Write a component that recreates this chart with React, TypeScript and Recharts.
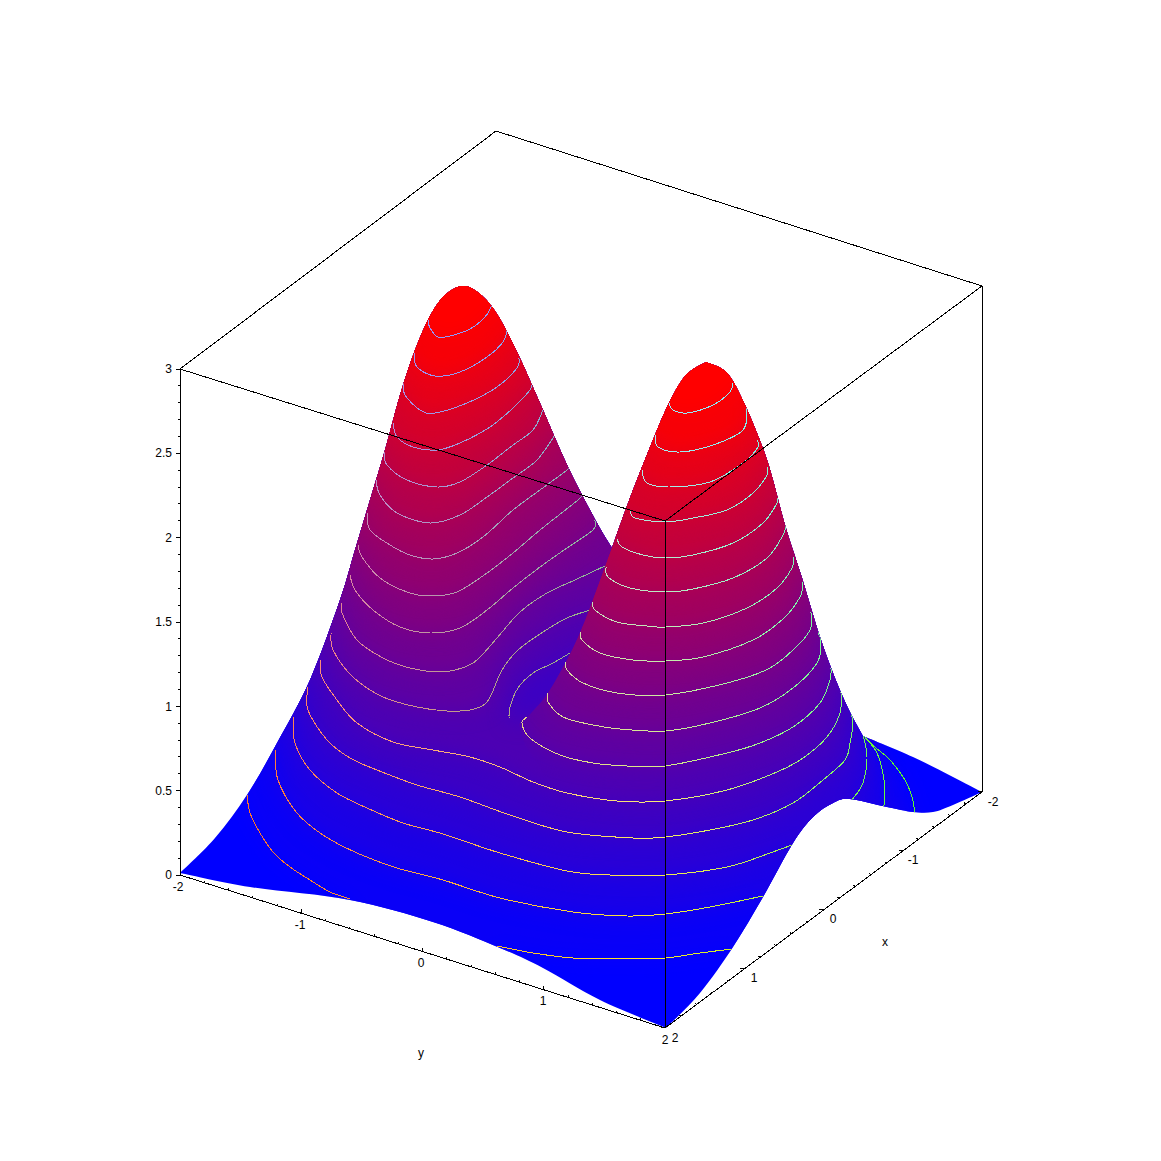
import { ScatterChart, Scatter, XAxis, YAxis } from "recharts";

type Pt = [number, number];

const SIZE = 1161;
const TOP = 100;
const FONT = "'Liberation Sans', Arial, sans-serif";

// ─── Outline of the surface ───────────────────────────────────────────────────

const LEFT_PEAK_EDGE: Pt[] = [
  [180, 873], [215, 838], [247, 795], [277, 743], [310, 680], [340, 600], [355, 550], [370, 500], [385, 450],
  [400, 395], [415, 350], [430, 316], [445, 295], [463, 286], [480, 294], [497, 314], [518, 354], [543, 410],
  [568, 467], [597, 523], [612, 548],
];
const RIGHT_PEAK_LEFT_EDGE: Pt[] = [
  [612, 548], [630, 498], [655, 435], [670, 401], [686, 375], [706, 362],
];
const RIGHT_PEAK_RIGHT_EDGE: Pt[] = [
  [706, 362], [727, 373], [745, 405], [767, 460], [785, 525], [802, 578], [820, 637], [837, 683], [850, 712], [863, 736],
];
const BACK_CORNER_EDGE: Pt[] = [[863, 736], [913, 757], [953, 777], [982, 792]];
const RIGHT_LOWER_EDGE: Pt[] = [
  [982, 792], [953, 805], [933, 812], [913, 812], [887, 807], [850, 799], [833, 803],
  [813, 817], [793, 843], [763, 897], [733, 947], [700, 993], [666, 1028],
];
const LEFT_LOWER_EDGE: Pt[] = [
  [666, 1028], [600, 1000], [543, 968], [500, 948], [433, 922], [350, 900], [250, 887], [180, 873],
];
const OCCLUSION_EDGE: Pt[] = [
  [612, 548], [593, 600], [580, 633], [567, 660], [548, 693], [533, 711], [527, 717],
];

// ─── Contours, lowest level first ─────────────────────────────────────────────

const L1_LEFT: Pt[] = [[247, 795], [250, 813], [260, 833], [273, 852], [290, 867], [310, 880], [330, 892], [350, 899]];
const L1_FRONT: Pt[] = [[497, 946], [533, 953], [573, 958], [617, 959], [665, 958], [700, 953], [732, 949]];
const L1_RIGHT: Pt[] = [[915, 813], [912, 797], [905, 780], [890, 760], [875, 747], [863, 735]];
const L2_MAIN: Pt[] = [
  [275, 750], [278, 780], [297, 813], [323, 835], [357, 853], [397, 868], [443, 880], [500, 898],
  [573, 912], [627, 916], [665, 914], [710, 907], [763, 896],
];
const L2_RIGHT: Pt[] = [[884, 806], [884, 780], [877, 753], [863, 735]];
const L3_MAIN: Pt[] = [
  [293, 717], [295, 743], [310, 770], [337, 793], [367, 808], [403, 823], [443, 834], [500, 853],
  [567, 871], [610, 875], [665, 875], [727, 867], [770, 853], [797, 843],
];
const L3_RIGHT: Pt[] = [[852, 800], [863, 783], [867, 757], [862, 730]];
const L4: Pt[] = [
  [308, 687], [308, 710], [327, 740], [350, 758], [377, 770], [417, 785], [460, 797], [510, 815],
  [567, 832], [633, 838], [665, 837], [710, 830], [753, 820], [793, 803], [823, 780], [845, 760], [850, 743],
  [853, 723], [850, 710],
];
const L5: Pt[] = [
  [320, 660], [322, 677], [337, 700], [357, 723], [393, 742], [433, 750], [470, 757], [500, 767], [533, 782],
  [567, 793], [617, 801], [665, 801], [727, 790], [777, 772], [803, 758], [827, 737], [840, 713], [841, 692],
];
const POCKET: Pt[] = [[509, 719], [510, 707], [518, 688], [533, 673], [553, 663], [570, 653]];

// ridge behind, levels 6 to 16
const BACK_CONTOURS: Pt[][] = [
  [[331, 633], [333, 650], [353, 677], [383, 697], [417, 707], [447, 711], [470, 710], [485, 704], [492, 693], [502, 670], [518, 650], [543, 632], [567, 618], [590, 610]],
  [[342, 603], [342, 613], [357, 640], [383, 658], [410, 668], [440, 672], [462, 668], [477, 660], [497, 638], [520, 612], [547, 593], [575, 580], [607, 565]],
  [[350, 575], [355, 590], [373, 610], [400, 627], [430, 633], [460, 628], [487, 610], [513, 588], [540, 567], [567, 548], [593, 530], [595, 520]],
  [[358, 545], [362, 557], [380, 578], [407, 592], [430, 596], [457, 592], [487, 573], [513, 553], [540, 530], [578, 500], [582, 495]],
  [[367, 513], [370, 530], [390, 545], [410, 555], [433, 559], [457, 553], [483, 537], [513, 510], [540, 490], [567, 470], [568, 467]],
  [[376, 480], [380, 495], [397, 513], [430, 523], [460, 515], [487, 497], [513, 478], [537, 460], [555, 435]],
  [[384, 452], [387, 465], [407, 480], [437, 487], [460, 482], [487, 465], [513, 445], [533, 430], [543, 410]],
  [[393, 423], [397, 437], [413, 447], [437, 450], [460, 443], [490, 427], [513, 408], [530, 390], [532, 383]],
  [[403, 383], [405, 395], [420, 410], [435, 413], [467, 403], [497, 387], [517, 368], [519, 358]],
  [[414, 353], [417, 367], [435, 376], [460, 372], [487, 357], [503, 342], [507, 330]],
  [[428, 320], [430, 328], [438, 337], [450, 336], [470, 329], [485, 317], [491, 307], [490, 303]],
];

// peak in front, levels 6 to 16
const FRONT_CONTOURS: Pt[][] = [
  [[527, 717], [522, 723], [530, 738], [560, 755], [593, 763], [627, 766], [665, 766], [727, 753], [760, 743], [793, 727], [820, 703], [830, 680], [831, 668]],
  [[548, 693], [548, 702], [563, 717], [593, 725], [620, 729], [665, 731], [710, 723], [760, 708], [793, 688], [817, 663], [821, 643], [818, 632]],
  [[566, 662], [567, 670], [583, 683], [617, 693], [665, 695], [727, 683], [768, 669], [793, 650], [810, 630], [811, 612]],
  [[581, 632], [582, 640], [600, 653], [633, 660], [665, 661], [703, 657], [753, 640], [783, 619], [800, 597], [803, 582]],
  [[593, 602], [595, 610], [617, 622], [647, 626], [665, 627], [703, 623], [747, 608], [777, 588], [792, 568], [794, 557]],
  [[606, 567], [608, 577], [630, 588], [665, 592], [693, 589], [733, 578], [767, 558], [783, 535], [786, 525]],
  [[617, 539], [622, 547], [643, 555], [665, 558], [693, 555], [733, 543], [763, 523], [777, 503], [777, 498]],
  [[630, 510], [635, 518], [665, 522], [693, 518], [727, 510], [753, 493], [767, 475], [767, 467]],
  [[642, 470], [647, 483], [670, 487], [710, 482], [743, 463], [758, 447], [757, 440]],
  [[655, 435], [658, 447], [680, 452], [713, 445], [743, 430], [747, 408]],
  [[669, 403], [673, 410], [687, 413], [713, 405], [730, 392], [733, 383]],
];

// ─── Box and axes ─────────────────────────────────────────────────────────────

const BOX_EDGES: Pt[][] = [
  [[180, 369], [180, 875]],
  [[180, 369], [496, 131]],
  [[496, 131], [982, 286]],
  [[982, 286], [982, 792]],
  [[982, 286], [665, 521]],
  [[180, 369], [665, 521]],
  [[665, 521], [665, 1028]],
  [[180, 875], [665, 1028]],
  [[665, 1028], [982, 792]],
];

const Z_TICKS = [0, 0.1, 0.2, 0.3, 0.4, 0.5, 0.6, 0.7, 0.8, 0.9, 1, 1.1, 1.2, 1.3, 1.4, 1.5, 1.6, 1.7, 1.8, 1.9, 2, 2.1, 2.2, 2.3, 2.4, 2.5, 2.6, 2.7, 2.8, 2.9, 3];
const XY_TICKS = [-2, -1.8, -1.6, -1.4, -1.2, -1, -0.8, -0.6, -0.4, -0.2, 0, 0.2, 0.4, 0.6, 0.8, 1, 1.2, 1.4, 1.6, 1.8, 2];

const Z_LABELS = [
  { x: 172, y: 875, label: "0" }, { x: 172, y: 791, label: "0.5" }, { x: 172, y: 707, label: "1" },
  { x: 172, y: 622, label: "1.5" }, { x: 172, y: 538, label: "2" }, { x: 172, y: 453, label: "2.5" },
  { x: 172, y: 369, label: "3" },
];
const FLOOR_LABELS = [
  { x: 178, y: 887, label: "-2" }, { x: 300, y: 925, label: "-1" }, { x: 421, y: 963, label: "0" },
  { x: 543, y: 1001, label: "1" }, { x: 665, y: 1040, label: "2" }, { x: 675, y: 1038, label: "2" },
  { x: 754, y: 978, label: "1" }, { x: 833, y: 919, label: "0" }, { x: 913, y: 860, label: "-1" },
  { x: 993, y: 802, label: "-2" }, { x: 885, y: 942, label: "x" }, { x: 421, y: 1053, label: "y" },
];

// ─── Helpers ──────────────────────────────────────────────────────────────────

const toPoints = (pts: Pt[]) => pts.map(([x, y]) => ({ x, y }));

// runs are smoothed on their own and joined by straight pieces
const outline = (...runs: Pt[][]): Pt[] => {
  const out: Pt[] = [];
  runs.forEach((run) => {
    out.push(run[0], ...run, run[run.length - 1]);
  });
  return out;
};

const capped = (pts: Pt[]): Pt[] => {
  const [x0, y0] = pts[0];
  const [xn, yn] = pts[pts.length - 1];
  return outline([[x0 - 60, y0]], pts, [[xn + 60, yn]], [[xn + 60, TOP]], [[x0 - 60, TOP]]);
};

// a repeated point splits the path into separately smoothed runs
function smooth(points: { x: number; y: number }[], closed = false) {
  const runs: { x: number; y: number }[][] = [];
  points.forEach((p, i) => {
    const prev = points[i - 1];
    if (!prev || prev.x !== p.x || prev.y !== p.y) {
      if (!runs.length) runs.push([]);
      runs[runs.length - 1].push(p);
    } else {
      runs.push([p]);
    }
  });
  let d = "";
  runs.forEach((run) => {
    d += `${d ? "L" : "M"}${run[0].x} ${run[0].y}`;
    for (let i = 0; i < run.length - 1; i++) {
      const a = run[Math.max(i - 1, 0)];
      const b = run[i];
      const c = run[i + 1];
      const e = run[Math.min(i + 2, run.length - 1)];
      d += `C${b.x + (c.x - a.x) / 6} ${b.y + (c.y - a.y) / 6} ${c.x - (e.x - b.x) / 6} ${c.y - (e.y - b.y) / 6} ${c.x} ${c.y}`;
    }
  });
  return closed ? d + "Z" : d;
}

const NoDot = () => <g />;

const mix = (t: number) => `rgb(${Math.round(255 * t)},0,${Math.round(255 * (1 - t))})`;
const bandColor = (band: number) => mix(Math.max(0, Math.min(1, (band - 0.5) / 15)));
const levelT = (level: number) => (level - 1) / 15;

type Stop = [number, number, number];
const LOW_STOPS: Stop[] = [[240, 255, 115], [660, 250, 235], [900, 90, 255]];
const BACK_STOPS: Stop[] = [[330, 245, 130], [600, 150, 185]];
const FRONT_STOPS: Stop[] = [[530, 240, 210], [665, 225, 235], [840, 115, 255]];

function LineGradient({ id, stops, level }: { id: string; stops: Stop[]; level: number }) {
  const t = levelT(level);
  const blue = Math.round(level < 6 ? Math.min(255, 40 + t * 300) : 80 + t * 175);
  const fade = level < 6 ? 1 : 1.1 - 0.4 * t;
  return (
    <linearGradient id={id} gradientUnits="userSpaceOnUse" x1={0} x2={SIZE} y1={0} y2={0}>
      {stops.map(([x, r, g]) => (
        <stop key={x} offset={x / SIZE} stopColor={`rgb(${Math.round(r * fade)},${g},${blue})`} />
      ))}
    </linearGradient>
  );
}

// ─── Series wrappers ──────────────────────────────────────────────────────────

const series = (key: string, pts: Pt[], line: (props: any) => any) => (
  <Scatter
    key={key}
    data={toPoints(pts)}
    line={line}
    shape={NoDot}
    legendType="none"
    isAnimationActive={false}
  />
);

const clipSeries = (id: string, pts: Pt[]) =>
  series(id, pts, (props: any) => (
    <clipPath id={id}>
      <path d={smooth(props.points, true)} shapeRendering="crispEdges" />
    </clipPath>
  ));

const bandSeries = (key: string, pts: Pt[], color: string, clip: string) =>
  series(key, pts, (props: any) => (
    <g clipPath={`url(#${clip})`}>
      <path d={smooth(props.points, true)} fill={color} stroke="none" filter="url(#soft)" />
    </g>
  ));

const contourSeries = (key: string, pts: Pt[], gradient: string, clip: string) =>
  series(key, pts, (props: any) => (
    <path
      d={smooth(props.points)}
      fill="none"
      stroke={`url(#${gradient})`}
      strokeWidth={1}
      shapeRendering="crispEdges"
      clipPath={`url(#${clip})`}
    />
  ));

const blackSeries = (key: string, pts: Pt[]) =>
  series(key, pts, (props: any) => (
    <path
      d={props.points.map((p: any, i: number) => `${i % 2 ? "L" : "M"}${p.x} ${p.y}`).join("")}
      fill="none"
      stroke="#000"
      strokeWidth={1}
      shapeRendering="crispEdges"
    />
  ));

const labelSeries = (key: string, data: { x: number; y: number; label: string }[], anchor: "end" | "middle") => (
  <Scatter
    key={key}
    data={data}
    legendType="none"
    isAnimationActive={false}
    shape={(props: any) => (
      <text
        x={props.cx}
        y={props.cy}
        dy="0.36em"
        textAnchor={anchor}
        fontFamily={FONT}
        fontSize={12}
        fill="#000"
      >
        {props.payload?.label ?? props.label}
      </text>
    )}
  />
);

// ticks are pairs of points along an axis
const along = (a: Pt, b: Pt, f: number): Pt => [a[0] + (b[0] - a[0]) * f, a[1] + (b[1] - a[1]) * f];
const isMajor = (v: number, step: number) => Math.abs(v / step - Math.round(v / step)) < 1e-6;

const zTicks: Pt[] = Z_TICKS.flatMap((v) => {
  const [x, y] = along([180, 875], [180, 369], v / 3);
  return [[x - (isMajor(v, 0.5) ? 4 : 2), y], [x, y]] as Pt[];
});
const yTicks: Pt[] = XY_TICKS.flatMap((v) => {
  const [x, y] = along([180, 875], [665, 1028], (v + 2) / 4);
  return [[x, y - (isMajor(v, 1) ? 4 : 2)], [x, y]] as Pt[];
});
const xTicks: Pt[] = XY_TICKS.flatMap((v) => {
  const [x, y] = along([982, 792], [665, 1028], (v + 2) / 4);
  return [[x - (isMajor(v, 1) ? 4 : 2), y - 1], [x, y]] as Pt[];
});

// ─── Fills ────────────────────────────────────────────────────────────────────

const SILHOUETTE = outline(LEFT_PEAK_EDGE, RIGHT_PEAK_LEFT_EDGE, RIGHT_PEAK_RIGHT_EDGE, BACK_CORNER_EDGE, RIGHT_LOWER_EDGE, LEFT_LOWER_EDGE);
const FRONT_CLIP = outline(
  [...OCCLUSION_EDGE].reverse(),
  RIGHT_PEAK_LEFT_EDGE,
  RIGHT_PEAK_RIGHT_EDGE,
  [[1100, 736]],
  [[1100, 1100]],
  [[560, 1100]],
  [[560, 800]],
  [[525, 745]],
  [[519, 724]],
);

const BASE_FILL: Pt[] = [[0, 0], [SIZE, 0], [SIZE, SIZE], [0, SIZE]];
const L1_FILL = outline([[200, 770]], L1_LEFT, [[360, 925]], [[490, 965]], L1_FRONT, [[745, 965]], [[930, 830]], L1_RIGHT, [[885, 720]], [[1000, TOP]], [[100, TOP]], [[100, 770]]);
const L2_FILL = outline([[230, 740]], L2_MAIN, [[790, 915]], [[900, 825]], L2_RIGHT, [[885, 720]], [[1000, TOP]], [[100, TOP]], [[100, 740]]);
const L3_FILL = outline([[250, 717]], L3_MAIN, [[815, 860]], [[860, 815]], L3_RIGHT, [[885, 715]], [[1000, TOP]], [[100, TOP]], [[100, 717]]);
const L4_FILL = outline([[260, 690]], L4, [[890, 700]], [[1000, TOP]], [[100, TOP]], [[100, 690]]);
const L5_FILL = outline([[270, 660]], L5, [[880, 680]], [[1000, TOP]], [[100, TOP]], [[100, 660]]);
const POCKET_FILL = outline(POCKET, [[600, 640]], [[560, 700]], [[527, 717]], [[522, 722]], [[513, 722]]);

export default function App() {
  return (
    <div style={{ position: "absolute", left: 0, top: 0, width: SIZE, height: SIZE, background: "#fff", overflow: "hidden" }}>
      <style>{"html,body{margin:0;background:#fff}"}</style>
      <ScatterChart width={SIZE} height={SIZE} margin={{ top: 0, right: 0, bottom: 0, left: 0 }}>
        <defs>
          <filter id="soft" filterUnits="userSpaceOnUse" x={0} y={0} width={SIZE} height={SIZE} colorInterpolationFilters="sRGB">
            <feGaussianBlur stdDeviation={10} />
          </filter>
          {[1, 2, 3, 4, 5].map((k) => (
            <LineGradient key={k} id={`low${k}`} stops={LOW_STOPS} level={k} />
          ))}
          {BACK_CONTOURS.map((_, i) => (
            <LineGradient key={i} id={`back${i}`} stops={BACK_STOPS} level={i + 6} />
          ))}
          {FRONT_CONTOURS.map((_, i) => (
            <LineGradient key={i} id={`front${i}`} stops={FRONT_STOPS} level={i + 6} />
          ))}
        </defs>
        <XAxis type="number" dataKey="x" domain={[0, SIZE]} hide />
        <YAxis type="number" dataKey="y" domain={[0, SIZE]} reversed hide />

        {clipSeries("clipAll", SILHOUETTE)}
        {clipSeries("clipFront", FRONT_CLIP)}

        {/* surface behind the front peak */}
        {bandSeries("base", BASE_FILL, bandColor(0), "clipAll")}
        {bandSeries("fill1", L1_FILL, bandColor(1), "clipAll")}
        {bandSeries("fill2", L2_FILL, bandColor(2), "clipAll")}
        {bandSeries("fill3", L3_FILL, bandColor(3), "clipAll")}
        {bandSeries("fill4", L4_FILL, bandColor(4), "clipAll")}
        {bandSeries("fill5", L5_FILL, bandColor(5), "clipAll")}
        {bandSeries("pocket", POCKET_FILL, bandColor(4), "clipAll")}
        {BACK_CONTOURS.map((c, i) => bandSeries(`backFill${i}`, capped(c), bandColor(i + 6), "clipAll"))}

        {contourSeries("l1a", L1_LEFT, "low1", "clipAll")}
        {contourSeries("l1b", L1_FRONT, "low1", "clipAll")}
        {contourSeries("l1c", L1_RIGHT, "low1", "clipAll")}
        {contourSeries("l2a", L2_MAIN, "low2", "clipAll")}
        {contourSeries("l2b", L2_RIGHT, "low2", "clipAll")}
        {contourSeries("l3a", L3_MAIN, "low3", "clipAll")}
        {contourSeries("l3b", L3_RIGHT, "low3", "clipAll")}
        {contourSeries("l4", L4, "low4", "clipAll")}
        {contourSeries("l5", L5, "low5", "clipAll")}
        {contourSeries("pocketLine", POCKET, "back0", "clipAll")}
        {BACK_CONTOURS.map((c, i) => contourSeries(`backLine${i}`, c, `back${i}`, "clipAll"))}

        {/* front peak painted over it */}
        {FRONT_CONTOURS.map((c, i) => bandSeries(`frontFill${i}`, capped(c), bandColor(i + 6), "clipFront"))}
        {FRONT_CONTOURS.map((c, i) => contourSeries(`frontLine${i}`, c, `front${i}`, "clipAll"))}

        {/* box, ticks and labels on top */}
        {BOX_EDGES.map((e, i) => blackSeries(`edge${i}`, e))}
        {blackSeries("zTicks", zTicks)}
        {blackSeries("yTicks", yTicks)}
        {blackSeries("xTicks", xTicks)}
        {labelSeries("zLabels", Z_LABELS, "end")}
        {labelSeries("floorLabels", FLOOR_LABELS, "middle")}
      </ScatterChart>
    </div>
  );
}
